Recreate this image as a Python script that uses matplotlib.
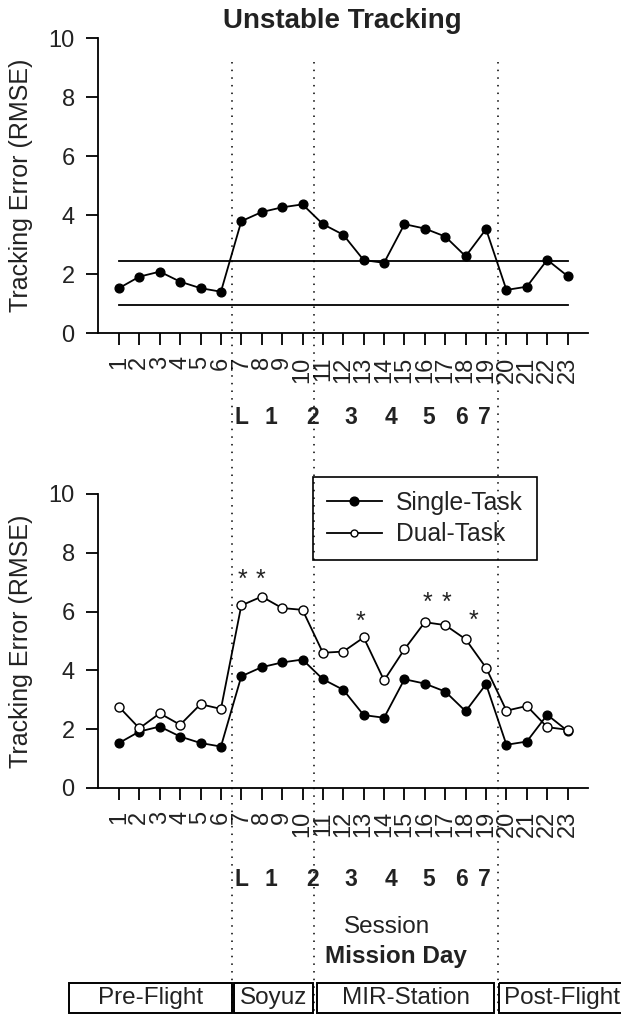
import matplotlib
matplotlib.use("Agg")
import matplotlib.pyplot as plt
from matplotlib.patches import Rectangle

plt.rcParams['font.family'] = ['Liberation Sans', 'DejaVu Sans']

# data
sessions = list(range(1, 24))
single_task = [1.53, 1.92, 2.09, 1.75, 1.53, 1.41, 3.80, 4.11, 4.27, 4.37, 3.70, 3.34,
               2.48, 2.39, 3.70, 3.55, 3.28, 2.61, 3.53, 1.47, 1.58, 2.49, 1.94]
dual_task = [2.76, 2.03, 2.54, 2.15, 2.85, 2.69, 6.21, 6.51, 6.12, 6.06, 4.60, 4.64,
             5.12, 3.66, 4.72, 5.64, 5.54, 5.06, 4.09, 2.63, 2.79, 2.07, 1.98]
band_limits = [2.45, 0.95]
phase_bounds = [6.56, 10.58, 19.57]
mission_days = ['L', '1', '2', '3', '4', '5', '6', '7']
mission_day_x = [7.0, 8.45, 10.5, 12.39, 14.33, 16.17, 17.78, 18.94]
star_x = [7.04, 7.94, 12.86, 16.12, 17.04, 18.38]
star_y = [6.85, 6.85, 5.40, 6.07, 6.07, 5.46]
phases = ['Pre-Flight', 'Soyuz', 'MIR-Station', 'Post-Flight']
phase_spans = [(-1.46, 6.55), (6.62, 10.53), (10.72, 19.39), (19.63, 26.5)]

W, H = 621, 1015
fig = plt.figure(figsize=(W / 100, H / 100), dpi=100)
FS = 17
TXT = '#222222'
XMIN, XMAX = -0.043, 24.0
left, width = 97.7 / W, 490.3 / W


def setup(ax):
    ax.set_xlim(XMIN, XMAX)
    ax.set_ylim(0, 10)
    for s in ['top', 'right']:
        ax.spines[s].set_visible(False)
    for s in ['left', 'bottom']:
        ax.spines[s].set_linewidth(1.3)
    ax.set_yticks([0, 2, 4, 6, 8, 10])
    ax.set_xticks(sessions)
    ax.set_xticklabels([str(s) for s in sessions], rotation=90, va='top')
    ax.tick_params(axis='both', labelsize=FS, length=8.6, width=1.3, pad=8,
                   colors='black', labelcolor=TXT)
    ax.set_ylabel('Tracking Error (RMSE)', fontsize=18, color=TXT)
    ax.yaxis.set_label_coords(-0.132, 0.5)
    ax.patch.set_alpha(0)


ax1 = fig.add_axes([left, 1 - 333.3 / H, width, 295 / H])
setup(ax1)
ax1.plot(sessions, single_task, color='black', lw=1.3, marker='o', ms=6.3,
         mfc='black', mec='black', clip_on=False, zorder=3)
for b in band_limits:
    ax1.plot([sessions[0], sessions[-1]], [b, b], color='black', lw=1.3)
fig.text(342 / W, 1 - 21 / H, 'Unstable Tracking', fontsize=20, fontweight='bold',
         ha='center', va='center', color=TXT)

ax2 = fig.add_axes([left, 1 - 788 / H, width, 294 / H])
setup(ax2)
ax2.plot(sessions, single_task, color='black', lw=1.3, marker='o', ms=6.3,
         mfc='black', mec='black', clip_on=False, zorder=3, label='Single-Task')
ax2.plot(sessions, dual_task, color='black', lw=1.3, marker='o', ms=6.5,
         mfc='white', mec='black', mew=1.0, clip_on=False, zorder=3, label='Dual-Task')
for sx, sy in zip(star_x, star_y):
    ax2.text(sx, sy, '*', fontsize=18, ha='center', va='baseline', color='#222222')
leg = ax2.legend(loc='upper left', bbox_to_anchor=(0.439, 1.058), borderaxespad=0,
                 fontsize=17.7, frameon=True, fancybox=False, edgecolor='black',
                 framealpha=1, handlelength=2.24, handletextpad=0.57,
                 borderpad=0.57, labelspacing=0.3)
leg.get_frame().set_linewidth(1.2)
for t in leg.get_texts():
    t.set_color(TXT)
leg.legend_handles[1].set_markersize(5)

# overlay in session units horizontally, pixels vertically
ov = fig.add_axes([left, 0, width, 1])
ov.set_xlim(XMIN, XMAX)
ov.set_ylim(H, 0)
ov.axis('off')
ov.patch.set_alpha(0)
for xb in phase_bounds:
    ov.plot([xb, xb], [62, 1013], color='black', lw=1.1, ls=(0, (1, 4)), clip_on=False)
for lab, x in zip(mission_days, mission_day_x):
    for yy in (418, 880):
        ov.text(x, yy, lab, fontsize=16.5, fontweight='bold', ha='center', va='center',
                color=TXT)
ov.text(14.15, 927, 'Session', fontsize=17.5, ha='center', va='center', color=TXT)
ov.text(14.59, 956, 'Mission Day', fontsize=17.5, fontweight='bold', ha='center',
        va='center', color=TXT)
for name, (x0, x1) in zip(phases, phase_spans):
    ov.add_patch(Rectangle((x0, 983), x1 - x0, 30, fill=False, ec='black', lw=1.4,
                           clip_on=False))
    xc = (x0 + x1) / 2 if name != 'Post-Flight' else (x0 + 25.8) / 2
    ov.text(xc, 998, name, fontsize=17.5, ha='center', va='center', color=TXT,
            clip_on=False)

fig.savefig('out.png', dpi=100)
